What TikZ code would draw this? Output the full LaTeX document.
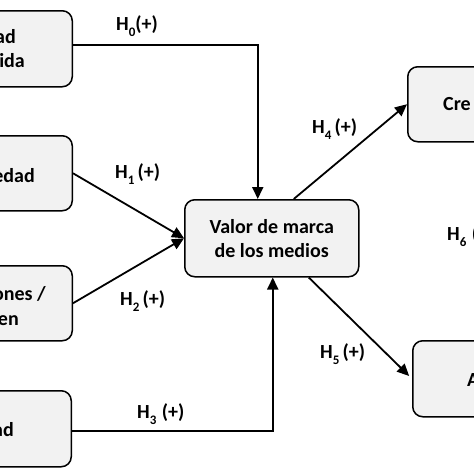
\documentclass[tikz,border=0pt]{standalone}
\usepackage{fontspec}
\setmainfont{Carlito}
\usetikzlibrary{arrows.meta,calc}
\definecolor{boxgray}{HTML}{F2F2F2}
\newcommand\hyp[2]{H\raisebox{-0.32em}{\fontsize{13}{13}\selectfont #1}#2(+)}
\tikzset{
  box/.style={draw=black, line width=1.5pt, fill=boxgray, rounded corners=10pt, inner sep=0pt},
  txt/.style={font=\fontsize{20}{24}\selectfont\bfseries, inner sep=0pt},
  lbl/.style={font=\fontsize{20}{22}\selectfont\bfseries, inner sep=0pt, anchor=base west},
  conn/.style={line width=1.8pt, -{Triangle[length=12pt,width=11pt]}}
}
\begin{document}
\begin{tikzpicture}[x=1pt,y=-1pt]
\useasboundingbox (0,0) rectangle (474,474);
\clip (0,0) rectangle (474,474);
% left boxes
\node[box, minimum width=200pt, minimum height=76pt, anchor=north east] (b1) at (73,10) {};
\node[box, minimum width=200pt, minimum height=75pt, anchor=north east] (b2) at (73,135) {};
\node[box, minimum width=200pt, minimum height=75pt, anchor=north east] (b3) at (73,265) {};
\node[box, minimum width=200pt, minimum height=76pt, anchor=north east] (b4) at (72,390) {};
% right boxes
\node[box, minimum width=200pt, minimum height=75pt, anchor=north west] (cre) at (407,66) {};
\node[box, minimum width=200pt, minimum height=76pt, anchor=north west] (ab) at (412,340) {};
% center
\node[box, minimum width=174pt, minimum height=77pt, anchor=north west] (vm) at (184,199) {};
\node[txt, align=center] (vmt) at (vm.center) {Valor de marca\\de los medios};
% fragment texts
\node[txt, anchor=base east] (t1a) at (16,43) {ad};
\node[txt, anchor=base east] (t1b) at (25,67) {ida};
\node[txt, anchor=base east] (t2) at (35,182) {edad};
\node[txt, anchor=base east] (t3a) at (46,300) {ones /};
\node[txt, anchor=base east] (t3b) at (19,325) {en};
\node[txt, anchor=base east] (t4) at (14,436) {ad};
\node[txt, anchor=base west] (tc) at (443,110) {Cre};
\node[txt, anchor=base west] (ta) at (467,386) {A};
% connectors
\draw[conn] ([yshift=4pt]b1.east) -| ([xshift=-14pt]vm.north);
\draw[conn] (b2.east) -- (vm.west);
\draw[conn] (b3.east) -- (vm.west);
\draw[conn] ([yshift=-2pt]b4.east) -| ([xshift=1pt]vm.south);
\draw[conn] ([xshift=22pt]vm.north) -- (cre.west);
\draw[conn, shorten >=4pt] ([xshift=37pt]vm.south) -- (ab.west);
% labels
\node[lbl] (h0) at (116,30) {\hyp{0}{}};
\node[lbl] (h1) at (115,178) {\hyp{1}{\,}};
\node[lbl] (h2) at (120,305) {\hyp{2}{\,}};
\node[lbl] (h3) at (137,418) {\hyp{3}{\;}};
\node[lbl] (h4) at (312,133) {\hyp{4}{\,}};
\node[lbl] (h5) at (320,358) {\hyp{5}{\,}};
\node[lbl] (h6) at (447,240) {\hyp{6}{\;}};
\end{tikzpicture}
\end{document}
